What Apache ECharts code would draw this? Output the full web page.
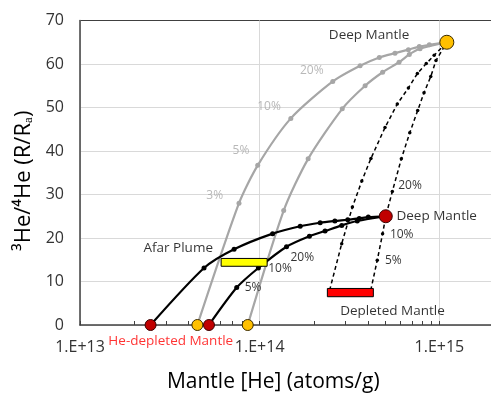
<!DOCTYPE html>
<html><head><meta charset="utf-8">
<script src="https://cdn.jsdelivr.net/npm/echarts@6/dist/echarts.min.js"></script>
<style>html,body{margin:0;padding:0;background:#fff}#c{width:491px;height:394px}</style>
</head><body><div id="c"></div>
<script>
// ---- data (x: atoms/g, y: R/Ra) ----
const greyA = [[4.5e13,0],[7.67e13,28.0],[9.75e13,36.7],[1.49e14,47.5],[2.55e14,56.0],[3.62e14,59.6],[4.63e14,61.5],[5.66e14,62.5],[6.72e14,63.3],[7.73e14,64.0],[8.79e14,64.4],[1.1e15,65]];
const greyB = [[8.58e13,0],[1.36e14,26.3],[1.86e14,38.2],[2.88e14,49.7],[3.86e14,55.0],[4.83e14,58.1],[5.96e14,60.4],[6.8e14,62.2],[7.8e14,63.5],[1.1e15,65]];
const blackC = [[2.47e13,0],[4.9e13,13.1],[7.2e13,17.4],[1.18e14,21.0],[1.68e14,22.7],[2.17e14,23.5],[2.62e14,23.9],[3.09e14,24.2],[3.58e14,24.5],[4.02e14,24.8],[5.03e14,25.0]];
const blackD = [[5.22e13,0],[7.45e13,8.6],[9.83e13,13.1],[1.41e14,18.0],[1.89e14,20.4],[2.31e14,21.6],[2.86e14,22.9],[3.49e14,23.9],[5.03e14,25.0]];
const dashE = [[2.45e14,8.0],[2.86e14,18.7],[3.28e14,27.1],[3.7e14,33.1],[4.16e14,38.3],[4.98e14,45.4],[5.83e14,50.8],[6.72e14,54.5],[7.54e14,57.8],[8.45e14,60.1],[9.35e14,62.0],[1.1e15,65]];
const dashF = [[4.15e14,8.0],[4.51e14,14.9],[4.83e14,21.0],[5.03e14,25.0],[5.47e14,30.7],[6.14e14,38.2],[6.84e14,44.2],[7.57e14,49.3],[8.21e14,53.4],[8.95e14,57.1],[9.57e14,60.8],[1.1e15,65]];
const heDepletedRed = [[2.47e13,0],[5.22e13,0]];
const heDepletedGold = [[4.5e13,0],[8.58e13,0]];
const deepMantleGold = [[1.1e15,65]];
const deepMantleRed = [[5.03e14,25.0]];
const afarPlumeBox = [6.1e13,1.1e14,13.5,15.3];
const depletedMantleBox = [2.38e14,4.29e14,6.5,8.4];
const nameLabels = [[4.06e14,66.7,'Deep Mantle'],[3.52e13,17.7,'Afar Plume'],[9.66e14,25.1,'Deep Mantle'],[5.48e14,3.1,'Depleted Mantle']];
const greyPctLabels = [[1.95e14,58.5,'20%'],[1.127e14,50.1,'10%'],[7.87e13,40.2,'5%'],[5.62e13,29.7,'3%']];
const blackPctLabels = [[9.18e13,8.5,'5%'],[1.297e14,12.9,'10%'],[1.726e14,15.6,'20%'],[6.17e14,20.9,'10%'],[5.54e14,14.8,'5%'],[6.86e14,32.0,'20%']];
const redLabels = [[3.2e13,-3.8,'He-depleted Mantle']];
const xTickLabels = ['1.E+13','1.E+14','1.E+15'];
const yTicks = [0,10,20,30,40,50,60,70];
const minorTicks = [2e13,3e13,4e13,5e13,6e13,7e13,8e13,9e13,2e14,3e14,4e14,5e14,6e14,7e14,8e14,9e14];

const FONT = 'Open Sans';
const chart = echarts.init(document.getElementById('c'), null, {renderer:'canvas'});

function curve(data, color, dashed) {
  const n = data.length;
  return {
    type:'line', data, smooth: dashed ? false : 0.25, symbol:'circle', clip:false,
    symbolSize:(v,p)=> (p.dataIndex===0||p.dataIndex===n-1) ? 0 : (dashed?3.5:5),
    lineStyle:{color, width: dashed?1.5:2.2, type: dashed?[4,3]:'solid'},
    itemStyle:{color}, z:2, silent:true
  };
}
function pts(data, color, border, size) {
  return {type:'scatter', data, symbol:'circle', symbolSize:size, clip:false, z:5, silent:true,
    itemStyle:{color, borderColor:border, borderWidth:1, opacity:1}};
}
function labelSeries(data, color, size) {
  return {type:'scatter', data, symbolSize:0, clip:false, z:6, silent:true,
    label:{show:true, position:'inside', formatter:p=>p.data[2], color, fontSize:size, fontFamily:FONT}};
}
function pow10Label(v){
  const e = Math.log10(v);
  if (Math.abs(e-Math.round(e))>1e-6) return '';
  const idx = Math.round(e)-13;
  return xTickLabels[idx] || '';
}

chart.setOption({
  animation:false,
  grid:{left:80, right:-2.5, top:20.5, bottom:69, containLabel:false, outerBoundsMode:'none'},
  xAxis:[{
    type:'log', logBase:10, min:1e13, max:2e15,
    axisLine:{show:true, lineStyle:{color:'#404040', width:1.5}},
    axisTick:{show:true, inside:true, length:4, lineStyle:{color:'#404040'}},
    axisLabel:{formatter:pow10Label, fontSize:16, color:'#333', margin:14, fontFamily:FONT, showMaxLabel:false},
    splitLine:{show:true, lineStyle:{color:'#d9d9d9', width:1}},
    name:'Mantle [He] (atoms/g)', nameLocation:'middle', nameGap:47,
    nameTextStyle:{fontSize:21, color:'#000', fontFamily:FONT, padding:[0,27,0,0]}
  }],
  yAxis:[{
    type:'value', min:0, max:70, interval:10,
    axisLine:{show:true, lineStyle:{color:'#404040', width:1.5}},
    axisTick:{show:false},
    axisLabel:{fontSize:16, color:'#333', margin:16, fontFamily:FONT, formatter:v=>String(yTicks[Math.round(v/10)])},
    splitLine:{show:true, lineStyle:{color:['#d9d9d9','#d9d9d9','#d9d9d9','#d9d9d9','#d9d9d9','#d9d9d9','#d9d9d9','#404040'], width:1}},
    name:'³He/⁴He (R/Rₐ)', nameLocation:'middle', nameGap:43,
    nameTextStyle:{fontSize:22, color:'#000', fontFamily:FONT, padding:[0,16,0,0]}
  }],
  series:[
    {type:'custom', data:minorTicks.map(v=>[v,0]), encode:{x:0,y:1}, clip:false, silent:true, z:3,
      renderItem:(params, api)=>{
        const p = api.coord([api.value(0), 0]);
        const x = Math.round(p[0])+0.5;
        return {type:'line', shape:{x1:x, y1:p[1], x2:x, y2:p[1]-4}, style:{stroke:'#404040', lineWidth:1}};
      }},
    curve(greyA,'#a6a6a6',false),
    curve(greyB,'#a6a6a6',false),
    curve(blackC,'#000',false),
    curve(blackD,'#000',false),
    curve(dashE,'#000',true),
    curve(dashF,'#000',true),
    {type:'custom', data:[afarPlumeBox, depletedMantleBox], encode:{x:[0,1], y:[2,3]}, clip:false, silent:true, z:4,
      renderItem:(params, api)=>{
        const a = api.coord([api.value(0), api.value(3)]);
        const b = api.coord([api.value(1), api.value(2)]);
        const fill = params.dataIndex===0 ? '#ffff00' : '#ff0000';
        return {type:'rect', shape:{x:a[0], y:a[1], width:b[0]-a[0], height:b[1]-a[1]}, style:{fill, stroke:'#000', lineWidth:1}};
      }},
    pts(heDepletedRed,'#c00000','#3a0000',11),
    pts(heDepletedGold,'#ffc000','#3a2a00',11),
    pts(deepMantleRed,'#c00000','#3a0000',13),
    pts(deepMantleGold,'#ffc000','#3a2a00',14),
    labelSeries(nameLabels,'#000',13.5),
    labelSeries(greyPctLabels,'#a6a6a6',12),
    labelSeries(blackPctLabels,'#000',12),
    labelSeries(redLabels,'#ff0000',13.5)
  ]
});
</script>
</body></html>
